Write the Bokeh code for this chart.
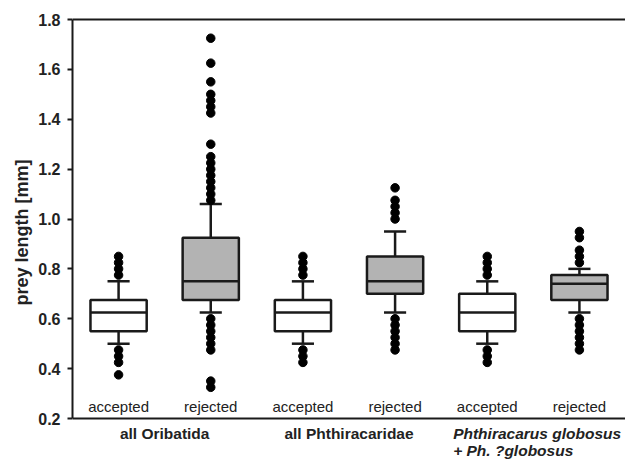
from bokeh.plotting import figure
from bokeh.models import Range1d, FixedTicker, PrintfTickFormatter, Span, ColumnDataSource, Title
from bokeh.core.properties import value
from bokeh.embed import file_html
from bokeh.resources import INLINE

# ---- data ----
categories = ["accepted", "rejected", "accepted", "rejected", "accepted", "rejected"]
groups = ["all Oribatida", "all Phthiracaridae", "Phthiracarus globosus", "+ Ph. ?globosus"]
q1 = [0.55, 0.675, 0.55, 0.70, 0.55, 0.675]
median = [0.625, 0.75, 0.625, 0.75, 0.625, 0.74]
q3 = [0.675, 0.925, 0.675, 0.85, 0.70, 0.775]
whisker_low = [0.50, 0.625, 0.50, 0.625, 0.50, 0.625]
whisker_high = [0.75, 1.06, 0.75, 0.95, 0.75, 0.80]
fill_colors = ["white", "#b3b3b3", "white", "#b3b3b3", "white", "#b3b3b3"]
outliers = [
    [0.775, 0.80, 0.825, 0.85, 0.475, 0.45, 0.425, 0.375],
    [1.075, 1.10, 1.125, 1.15, 1.175, 1.20, 1.225, 1.25, 1.30, 1.425, 1.45, 1.475, 1.50,
     1.55, 1.625, 1.725, 0.60, 0.575, 0.55, 0.525, 0.50, 0.475, 0.35, 0.325],
    [0.775, 0.80, 0.825, 0.85, 0.475, 0.45, 0.425],
    [1.0, 1.025, 1.05, 1.075, 1.125, 0.60, 0.575, 0.55, 0.525, 0.50, 0.475],
    [0.775, 0.80, 0.825, 0.85, 0.475, 0.45, 0.425],
    [0.825, 0.85, 0.875, 0.925, 0.95, 0.60, 0.575, 0.55, 0.525, 0.50, 0.475],
]
y_ticks = [0.2, 0.4, 0.6, 0.8, 1.0, 1.2, 1.4, 1.6, 1.8]
y_min, y_max = 0.2, 1.8

positions = list(range(1, len(categories) + 1))
box_w = 0.61
cap_w = 0.24
FONT = "Liberation Sans"
INK = "#1a1a1a"
TXT = "#222222"

# frame: top at 5px, bottom at 459px; axis 1.8 -> 19px, 0.2 -> 418px
px_per_unit = (418 - 19) / (y_max - y_min)
r_lo = y_min - (459 - 418) / px_per_unit
r_hi = y_max + (19 - 5) / px_per_unit

p = figure(width=625, height=459, output_backend="svg", toolbar_location=None,
           x_range=Range1d(0.5, 6.5), y_range=Range1d(r_lo, r_hi),
           min_border_left=72, min_border_right=0, min_border_top=5, min_border_bottom=0)
p.outline_line_color = None
p.grid.visible = False
p.background_fill_color = "white"
p.border_fill_color = "white"
p.xaxis.visible = False

src = ColumnDataSource(dict(x=positions, q1=q1, med=median, q3=q3, lo=whisker_low, hi=whisker_high,
                            fill=fill_colors,
                            xl=[x - box_w / 2 for x in positions], xr=[x + box_w / 2 for x in positions],
                            cl=[x - cap_w / 2 for x in positions], cr=[x + cap_w / 2 for x in positions]))

# whiskers
p.segment(x0="x", y0="q3", x1="x", y1="hi", source=src, line_color=INK, line_width=2.5)
p.segment(x0="x", y0="lo", x1="x", y1="q1", source=src, line_color=INK, line_width=2.5)
p.segment(x0="cl", y0="hi", x1="cr", y1="hi", source=src, line_color=INK, line_width=2.5)
p.segment(x0="cl", y0="lo", x1="cr", y1="lo", source=src, line_color=INK, line_width=2.5)
# boxes
p.vbar(x="x", width=box_w, bottom="q1", top="q3", source=src, fill_color="fill",
       line_color=INK, line_width=2.5)
p.segment(x0="xl", y0="med", x1="xr", y1="med", source=src, line_color=INK, line_width=2.5)

# outliers
ox, oy = [], []
for x, vals in zip(positions, outliers):
    ox += [x] * len(vals)
    oy += vals
p.scatter(ox, oy, size=8.5, color="black")

# category labels inside plot
p.text(x=positions, y=[0.248] * len(positions), text=categories,
       text_font=value(FONT), text_font_size="15px", text_color=TXT,
       text_align="center", text_baseline="middle")

# frame lines: top border and bottom axis line
p.add_layout(Span(location=y_max, dimension="width", line_color=INK, line_width=2))
p.add_layout(Span(location=y_min, dimension="width", line_color=INK, line_width=2))

# y axis
p.yaxis.bounds = (y_min, y_max)
p.yaxis.ticker = FixedTicker(ticks=y_ticks)
p.yaxis.formatter = PrintfTickFormatter(format="%.1f")
p.yaxis.minor_tick_line_color = None
p.yaxis.major_tick_in = 0
p.yaxis.major_tick_out = 5
p.yaxis.major_tick_line_width = 2
p.yaxis.major_tick_line_color = INK
p.yaxis.axis_line_width = 2
p.yaxis.axis_line_color = INK
p.yaxis.major_label_text_font = FONT
p.yaxis.major_label_text_font_style = "bold"
p.yaxis.major_label_text_font_size = "16px"
p.yaxis.major_label_text_color = TXT
p.yaxis.major_label_standoff = 7

p.add_layout(Title(text="prey length [mm]", text_font=FONT, text_font_style="bold",
                   text_font_size="18px", text_color=TXT, align="center", offset=56,
                   standoff=8), "left")

# group labels below the axis line
y1 = y_min - 15 / px_per_unit
y2 = y_min - 32 / px_per_unit
gcx = [(positions[0] + positions[1]) / 2, (positions[2] + positions[3]) / 2]
p.text(x=gcx, y=[y1, y1], text=groups[:2], text_font=value(FONT), text_font_style="bold",
       text_font_size="15.5px", text_color=TXT, text_align="center", text_baseline="middle")
gx = positions[4] - 0.37
p.text(x=[gx, gx], y=[y1, y2], text=groups[2:], text_font=value(FONT), text_font_style="bold italic",
       text_font_size="15.5px", text_color=TXT, text_align="left", text_baseline="middle")

open("out.html", "w").write(file_html(p, INLINE))
